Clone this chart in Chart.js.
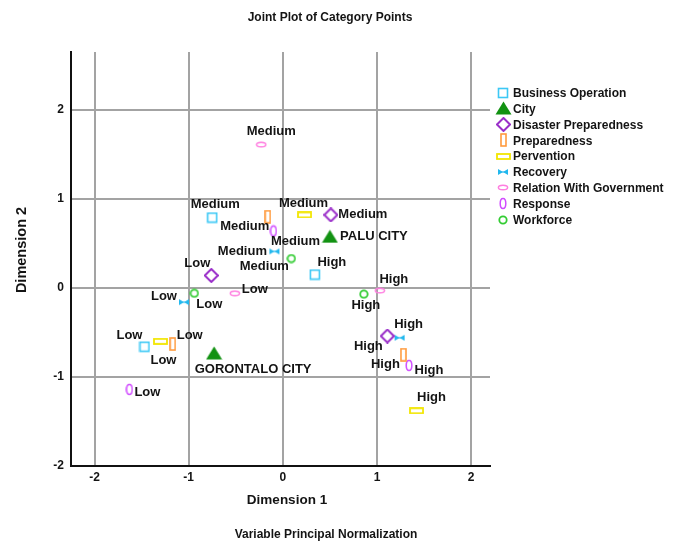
<!DOCTYPE html>
<html>
<head>
<meta charset="utf-8">
<script src="https://cdn.jsdelivr.net/npm/chart.js@4.4.0/dist/chart.umd.min.js"></script>
<style>body{margin:0;background:#fff}</style>
</head>
<body>
<canvas id="myChart" width="676" height="544"></canvas>
<script>
// category points, order Low / Medium / High
const levels = ["Low", "Medium", "High"];
const cities = ["PALU CITY", "GORONTALO CITY"];

const businessX = [-1.47, -0.75, 0.34];
const businessY = [-0.66, 0.79, 0.15];
const cityX = [0.50, -0.73];
const cityY = [0.58, -0.73];
const disasterX = [-0.76, 0.51, 1.11];
const disasterY = [0.14, 0.82, -0.54];
const preparednessX = [-1.17, -0.16, 1.28];
const preparednessY = [-0.63, 0.80, -0.75];
const perventionX = [-1.30, 0.23, 1.42];
const perventionY = [-0.60, 0.82, -1.38];
const recoveryX = [-1.05, -0.09, 1.24];
const recoveryY = [-0.16, 0.41, -0.56];
const relationX = [-0.51, -0.23, 1.03];
const relationY = [-0.06, 1.61, -0.03];
const responseX = [-1.63, -0.10, 1.34];
const responseY = [-1.14, 0.64, -0.87];
const workforceX = [-0.94, 0.09, 0.86];
const workforceY = [-0.06, 0.33, -0.07];

const FONT = "'Liberation Sans', Arial, sans-serif";
Chart.defaults.font.family = FONT;

// small canvases used as point styles (also in the legend)
function makeMarker(w, h, draw) {
  const c = document.createElement("canvas");
  c.width = w;
  c.height = h;
  draw(c.getContext("2d"));
  return c;
}

const markers = {
  square: makeMarker(12, 12, (g) => {
    g.strokeStyle = "#3cc8f5"; g.lineWidth = 1.6;
    g.strokeRect(1.5, 1.5, 9, 9);
  }),
  triangle: makeMarker(17, 14, (g) => {
    g.fillStyle = "#129212";
    g.beginPath(); g.moveTo(8.5, 0.5); g.lineTo(16.5, 13.5); g.lineTo(0.5, 13.5); g.closePath(); g.fill();
  }),
  diamond: makeMarker(15, 15, (g) => {
    g.strokeStyle = "#9a2fc9"; g.lineWidth = 2;
    g.beginPath(); g.moveTo(7.5, 1); g.lineTo(14, 7.5); g.lineTo(7.5, 14); g.lineTo(1, 7.5); g.closePath(); g.stroke();
  }),
  tallRect: makeMarker(7, 14, (g) => {
    g.strokeStyle = "#ff9a3c"; g.lineWidth = 1.6;
    g.strokeRect(1, 1, 5, 12);
  }),
  wideRect: makeMarker(15, 7, (g) => {
    g.strokeStyle = "#f2e600"; g.lineWidth = 1.8;
    g.strokeRect(1, 1, 13, 5);
  }),
  bowtie: makeMarker(12, 8, (g) => {
    g.fillStyle = "#22b8ee"; g.strokeStyle = "#22b8ee"; g.lineWidth = 1;
    g.beginPath(); g.moveTo(1, 1); g.lineTo(6, 4); g.lineTo(1, 7); g.closePath(); g.fill();
    g.beginPath(); g.moveTo(11, 1); g.lineTo(6, 4); g.lineTo(11, 7); g.closePath(); g.fill();
    g.beginPath(); g.moveTo(1, 4); g.lineTo(11, 4); g.stroke();
  }),
  flatEllipse: makeMarker(12, 7, (g) => {
    g.strokeStyle = "#ff7ee0"; g.lineWidth = 1.5;
    g.beginPath(); g.ellipse(6, 3.5, 4.6, 2.3, 0, 0, Math.PI * 2); g.stroke();
  }),
  tallEllipse: makeMarker(8, 13, (g) => {
    g.strokeStyle = "#d04cff"; g.lineWidth = 1.5;
    g.beginPath(); g.ellipse(4, 6.5, 2.8, 5, 0, 0, Math.PI * 2); g.stroke();
  }),
  circle: makeMarker(10, 10, (g) => {
    g.strokeStyle = "#33cc33"; g.lineWidth = 1.8;
    g.beginPath(); g.arc(5, 5, 3.7, 0, Math.PI * 2); g.stroke();
  }),
};

// label offsets in px from the point, [dx, dy] (text centre)
const labelOffsets = {
  "Business Operation": [[-15, -11], [3, -13], [17, -12]],
  "City": [[44, 0], [39, 16]],
  "Disaster Preparedness": [[-14, -12], [32, -1], [-19, 10]],
  "Preparedness": [[17, -9], [-23, 10], [-18, 10]],
  "Pervention": [[3, 19], [-1, -12], [15, -13]],
  "Recovery": [[-20, -6], [-32, 0], [9, -13]],
  "Relation With Government": [[20, -4], [10, -13], [14, -11]],
  "Response": [[18, 3], [22, 10], [20, 5]],
  "Workforce": [[15, 11], [-27, 8], [2, 11]],
};

function pts(xs, ys) {
  return xs.map((x, i) => ({ x: x, y: ys[i] }));
}

const series = [
  ["Business Operation", businessX, businessY, levels, markers.square],
  ["City", cityX, cityY, cities, markers.triangle],
  ["Disaster Preparedness", disasterX, disasterY, levels, markers.diamond],
  ["Preparedness", preparednessX, preparednessY, levels, markers.tallRect],
  ["Pervention", perventionX, perventionY, levels, markers.wideRect],
  ["Recovery", recoveryX, recoveryY, levels, markers.bowtie],
  ["Relation With Government", relationX, relationY, levels, markers.flatEllipse],
  ["Response", responseX, responseY, levels, markers.tallEllipse],
  ["Workforce", workforceX, workforceY, levels, markers.circle],
];

const datasets = series.map((s) => ({
  label: s[0],
  data: pts(s[1], s[2]),
  pointLabels: s[3],
  pointStyle: s[4],
  pointRadius: 6,
  pointHoverRadius: 6,
}));

// titles, point labels and legend drawn on top
const decorations = {
  id: "decorations",
  afterDatasetsDraw(chart) {
    const ctx = chart.ctx;
    ctx.save();
    ctx.fillStyle = "#141414";
    ctx.textBaseline = "middle";

    // point labels
    ctx.font = "bold 13px " + FONT;
    ctx.textAlign = "center";
    chart.data.datasets.forEach((ds, di) => {
      const meta = chart.getDatasetMeta(di);
      const offs = labelOffsets[ds.label];
      meta.data.forEach((el, i) => {
        ctx.fillText(ds.pointLabels[i], el.x + offs[i][0], el.y + offs[i][1]);
      });
    });

    // titles
    ctx.font = "bold 12px " + FONT;
    ctx.fillText("Joint Plot of Category Points", 330, 18);
    ctx.fillText("Variable Principal Normalization", 326, 535);
    ctx.font = "bold 13.5px " + FONT;
    ctx.fillText("Dimension 1", 287, 500);
    ctx.save();
    ctx.translate(22, 250);
    ctx.rotate(-Math.PI / 2);
    ctx.font = "bold 14.5px " + FONT;
    ctx.fillText("Dimension 2", 0, 0);
    ctx.restore();

    // legend
    ctx.font = "bold 12px " + FONT;
    ctx.textAlign = "left";
    chart.data.datasets.forEach((ds, i) => {
      const y = 92.5 + i * 15.9;
      const img = ds.pointStyle;
      ctx.drawImage(img, Math.round(503 - img.width / 2), Math.round(y - img.height / 2));
      ctx.fillText(ds.label, 513, y + 1);
    });
    ctx.restore();
  },
};

const ctx = document.getElementById("myChart").getContext("2d");
const myChart = new Chart(ctx, {
  type: "scatter",
  data: { datasets: datasets },
  options: {
    responsive: false,
    animation: false,
    events: [],
    layout: { padding: { top: 52, right: 186, bottom: 48, left: 0 } },
    plugins: {
      legend: { display: false },
      tooltip: { enabled: false },
    },
    scales: {
      x: {
        type: "linear",
        min: -2.25,
        max: 2.2,
        afterFit: (s) => { s.height = 30; },
        ticks: {
          stepSize: 1,
          includeBounds: false,
          padding: 4,
          maxRotation: 0,
          color: "#141414",
          font: { size: 12, weight: "bold" },
        },
        grid: { color: "#a3a3a3", lineWidth: 2, drawTicks: false },
        border: { display: true, color: "#111", width: 2 },
      },
      y: {
        type: "linear",
        min: -2,
        max: 2.65,
        afterFit: (s) => { s.width = 71; },
        ticks: {
          stepSize: 1,
          includeBounds: false,
          padding: 7,
          color: "#141414",
          font: { size: 12, weight: "bold" },
        },
        grid: { color: "#a3a3a3", lineWidth: 2, drawTicks: false },
        border: { display: true, color: "#111", width: 2 },
      },
    },
  },
  plugins: [decorations],
});
</script>
</body>
</html>
